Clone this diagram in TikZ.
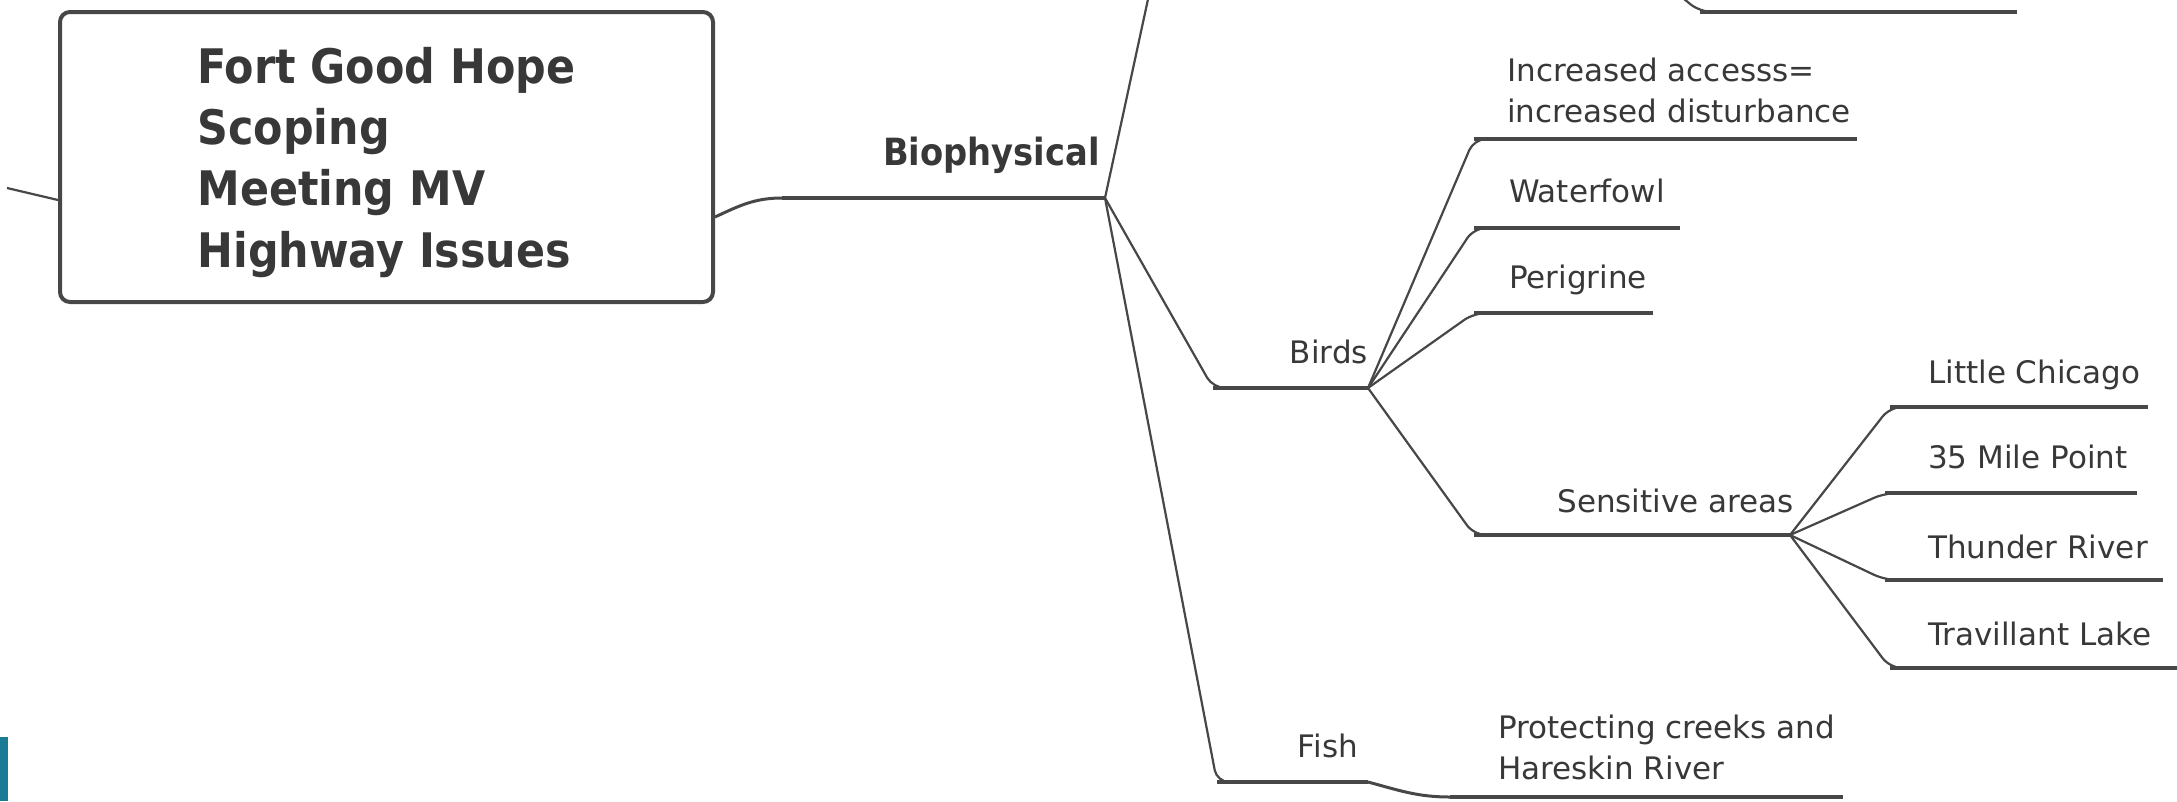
\documentclass[tikz,border=0pt]{standalone}
\usepackage{fontspec}
\setmainfont{DejaVu Sans}
\newfontfamily\headfont{DejaVu Sans Condensed}
\usepackage{xcolor}
\usepackage{tikz}
\definecolor{ink}{HTML}{474747}
\definecolor{txt}{HTML}{383838}
\definecolor{logoteal}{HTML}{1B7A94}

\begin{document}
\begin{tikzpicture}[x=1pt, y=-1pt, every node/.style={inner sep=0pt, text=txt}, leaf/.style={anchor=base west, font=\fontsize{31}{41}\selectfont}, twoline/.style={anchor=south west, align=left, font=\fontsize{31}{41}\selectfont}, branch/.style={anchor=base east, font=\fontsize{31}{41}\selectfont}, mainbox/.style={draw=ink, line width=4pt, rounded corners=10pt, minimum width=653pt, minimum height=290pt, align=left, text depth=0pt, font=\headfont\bfseries\fontsize{47.6}{61.3}\selectfont}, link/.style={draw=ink, line width=2.2pt, rounded corners=12pt}, uline/.style={draw=ink, line width=4pt}]
\useasboundingbox (0,0) rectangle (2177,801);
\fill[logoteal] (0,737) rectangle (8,801);
\node[mainbox] (root) at (386.5,157) {Fort Good Hope\\Scoping\\Meeting MV\\Highway Issues};
\node[branch, font=\headfont\bfseries\fontsize{37.5}{44}\selectfont] (bio) at (1100,165) {Biophysical};
\node[branch] (birds) at (1368,363) {Birds};
\node[branch] (sens) at (1794,512) {Sensitive areas};
\node[branch] (fish) at (1358,757) {Fish};
\node[twoline] (inc) at (1507,123) {Increased accesss=\\increased disturbance};
\node[leaf] (wf) at (1509,202) {Waterfowl};
\node[leaf] (per) at (1509,288) {Perigrine};
\node[leaf] (lc) at (1928,383) {Little Chicago};
\node[leaf] (mp) at (1928,468) {35 Mile Point};
\node[leaf] (tr) at (1928,558) {Thunder River};
\node[leaf] (tl) at (1928,645) {Travillant Lake};
\node[twoline] (pc) at (1498,780) {Protecting creeks and\\Hareskin River};
\coordinate (lft) at (7,188);
\coordinate (up) at (1150,-10);
\coordinate (far) at (1668,-14);
\coordinate (hid-in) at (1700,12);
\draw[uline] ([shift={(-318,33)}]bio.base east) coordinate (bio-in) -- ([shift={(5,33)}]bio.base east) coordinate (bio-out);
\draw[uline] ([shift={(-155,25)}]birds.base east) coordinate (birds-in) -- ([shift={(0,25)}]birds.base east) coordinate (birds-out);
\draw[uline] ([shift={(-320,23)}]sens.base east) coordinate (sens-in) -- ([shift={(-4,23)}]sens.base east) coordinate (sens-out);
\draw[uline] ([shift={(-141,25)}]fish.base east) coordinate (fish-in) -- ([shift={(10,25)}]fish.base east) coordinate (fish-out);
\draw[uline] ([shift={(-33,16)}]inc.south west) coordinate (inc-in) -- ([shift={(350,16)}]inc.south west);
\draw[uline] ([shift={(-35,26)}]wf.base west) coordinate (wf-in) -- ([shift={(171,26)}]wf.base west);
\draw[uline] ([shift={(-35,25)}]per.base west) coordinate (per-in) -- ([shift={(144,25)}]per.base west);
\draw[uline] ([shift={(-38,24)}]lc.base west) coordinate (lc-in) -- ([shift={(220,24)}]lc.base west);
\draw[uline] ([shift={(-43,25)}]mp.base west) coordinate (mp-in) -- ([shift={(209,25)}]mp.base west);
\draw[uline] ([shift={(-43,22)}]tr.base west) coordinate (tr-in) -- ([shift={(235,22)}]tr.base west);
\draw[uline] ([shift={(-38,23)}]tl.base west) coordinate (tl-in) -- ([shift={(257,23)}]tl.base west);
\draw[uline] ([shift={(-48,17)}]pc.south west) coordinate (pc-in) -- ([shift={(345,17)}]pc.south west);
\draw[uline] (hid-in) -- ++(317,0);
\draw[link] (lft) -- ([yshift=-43pt]root.west);
\draw[link, line width=3pt] ([yshift=-60pt]root.east) to[out=25,in=180] (bio-in);
\draw[link] (bio-out) -- (up);
\draw[link] (far) -- (hid-in) -- ([xshift=20pt]hid-in);
\draw[link] (bio-out) -- (birds-in) -- ([xshift=20pt]birds-in);
\draw[link] (bio-out) -- (fish-in) -- ([xshift=20pt]fish-in);
\draw[link] (birds-out) -- (inc-in) -- ([xshift=20pt]inc-in);
\draw[link] (birds-out) -- (wf-in) -- ([xshift=20pt]wf-in);
\draw[link] (birds-out) -- (per-in) -- ([xshift=20pt]per-in);
\draw[link] (birds-out) -- (sens-in) -- ([xshift=20pt]sens-in);
\draw[link] (sens-out) -- (lc-in) -- ([xshift=20pt]lc-in);
\draw[link] (sens-out) -- (mp-in) -- ([xshift=20pt]mp-in);
\draw[link] (sens-out) -- (tr-in) -- ([xshift=20pt]tr-in);
\draw[link] (sens-out) -- (tl-in) -- ([xshift=20pt]tl-in);
\draw[link, line width=3pt] (fish-out) to[out=-15,in=180] (pc-in);
\end{tikzpicture}
\end{document}
